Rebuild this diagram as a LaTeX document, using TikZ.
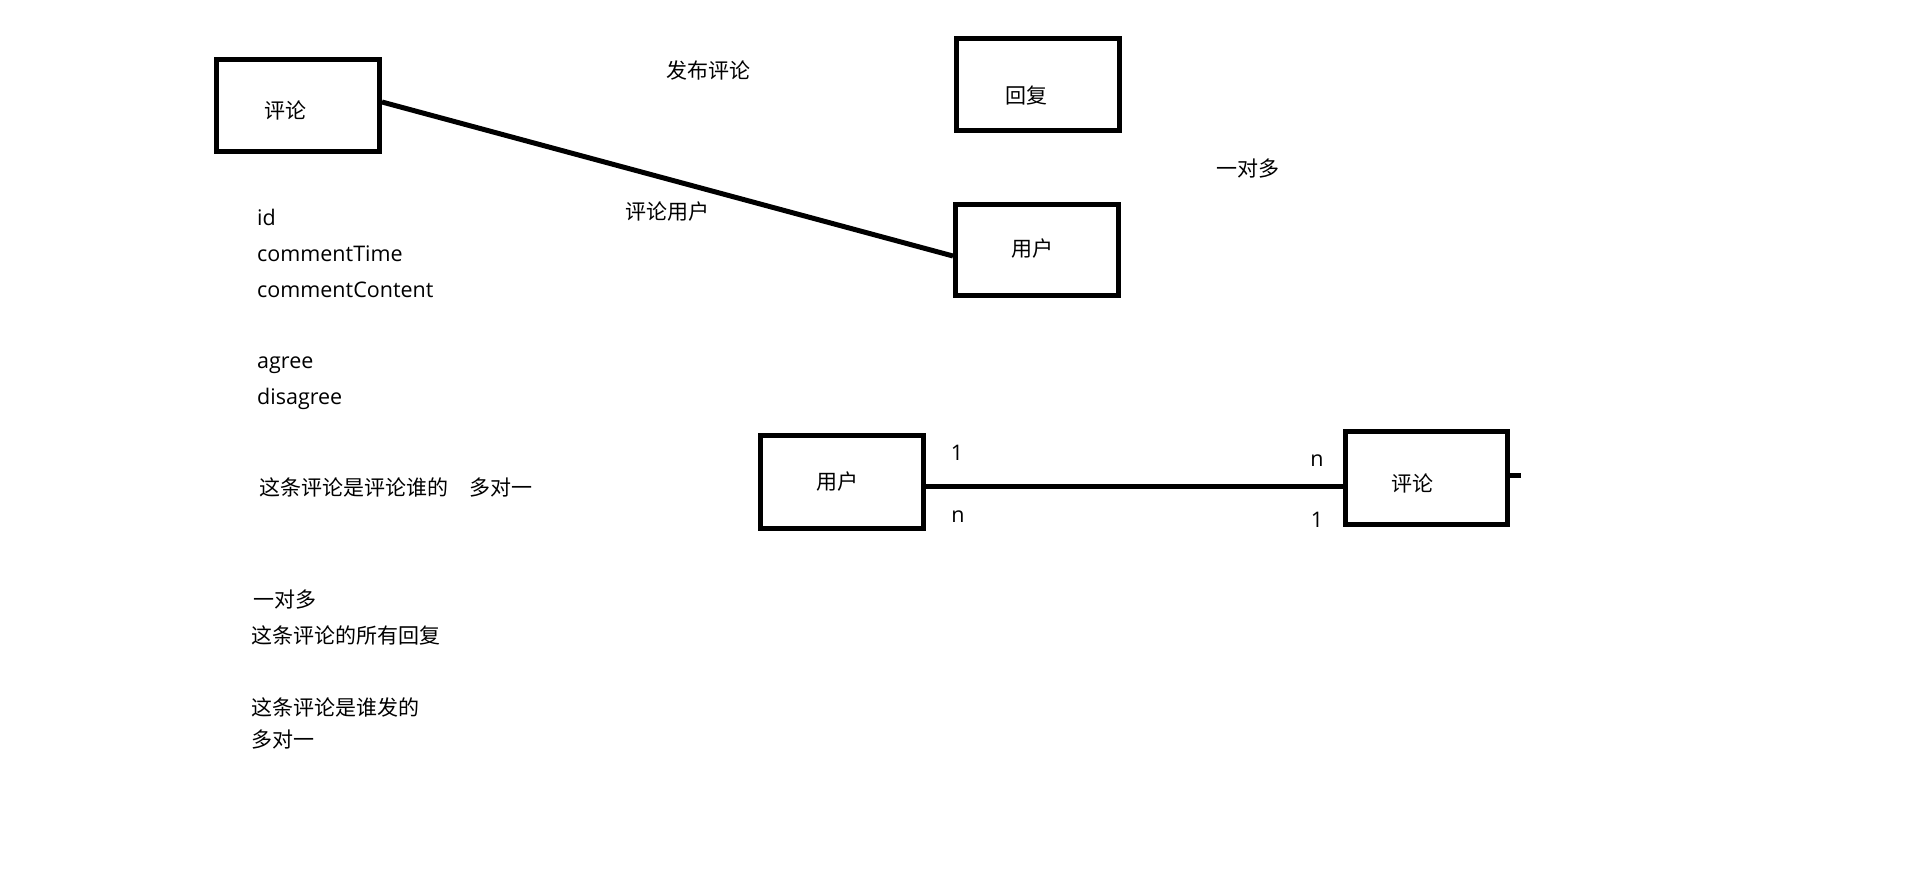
\documentclass[tikz,border=0pt]{standalone}
\usepackage{fontspec}
\setmainfont{Open Sans}
\newfontfamily\cjk{Noto Sans CJK SC}
\begin{document}
\begin{tikzpicture}[x=1pt,y=-1pt,
  ebox/.style={draw,line width=5pt,inner sep=0pt,minimum width=163pt,minimum height=92pt},
  zh/.style={inner sep=0pt,font=\cjk\fontsize{21pt}{25pt}\selectfont},
  en/.style={inner sep=0pt,font=\fontsize{21.5pt}{26pt}\selectfont},
  conn/.style={line width=5pt}]
\useasboundingbox[fill=white] (0,0) rectangle (1909,889);
% boxes
\node[ebox] (c1) at (298,105.5) {};
\node[ebox] (r1) at (1038,84.5) {};
\node[ebox,minimum height=91pt] (u1) at (1037,250) {};
\node[ebox,minimum height=93pt] (u2) at (842,482) {};
\node[ebox,minimum width=162pt,minimum height=93pt] (c2) at (1426.5,478) {};
% box texts
\node[zh] (c1t) at (285,110) {评论};
\node[zh] (r1t) at (1026,96) {回复};
\node[zh] (u1t) at (1032,249) {用户};
\node[zh] (u2t) at (837,482) {用户};
\node[zh] (c2t) at (1412.5,483) {评论};
% connectors
\draw[conn] ([yshift=3.5pt]c1.east) -- ([yshift=-6pt]u1.west);
\draw[conn] ([yshift=-4pt]u2.east) -- ([xshift=1pt,yshift=-8pt]c2.west);
\draw[line width=4.5pt] ([yshift=2.5pt]c2.east) coordinate (mk1) -- ++(8.5,0) coordinate (mk2) -- ++(0,2.5) coordinate (mk3);
% labels
\node[zh] (fb) at (708,71) {发布评论};
\node[zh] (plyh) at (667,212) {评论用户};
\node[zh] (ydd1) at (1248,169) {一对多};
\node[en] (l1a) at (957,453) {1};
\node[en] (l1b) at (958,517) {n};
\node[en] (l2a) at (1317,461) {n};
\node[en] (l2b) at (1317,520) {1};
% attribute list
\node[en,anchor=base west] (a1) at (257,225) {id};
\node[en,anchor=base west] (a2) at (257,261) {commentTime};
\node[en,anchor=base west] (a3) at (257,297) {commentContent};
\node[en,anchor=base west] (a4) at (257,368) {agree};
\node[en,anchor=base west] (a5) at (257,404) {disagree};
% notes
\node[zh,anchor=west] (n1) at (259,487) {这条评论是评论谁的\hspace{21pt}多对一};
\node[zh,anchor=west] (n2) at (253,600) {一对多};
\node[zh,anchor=west] (n3) at (251,635) {这条评论的所有回复};
\node[zh,anchor=west] (n4) at (251,707) {这条评论是谁发的};
\node[zh,anchor=west] (n5) at (251,740) {多对一};
\end{tikzpicture}
\end{document}
